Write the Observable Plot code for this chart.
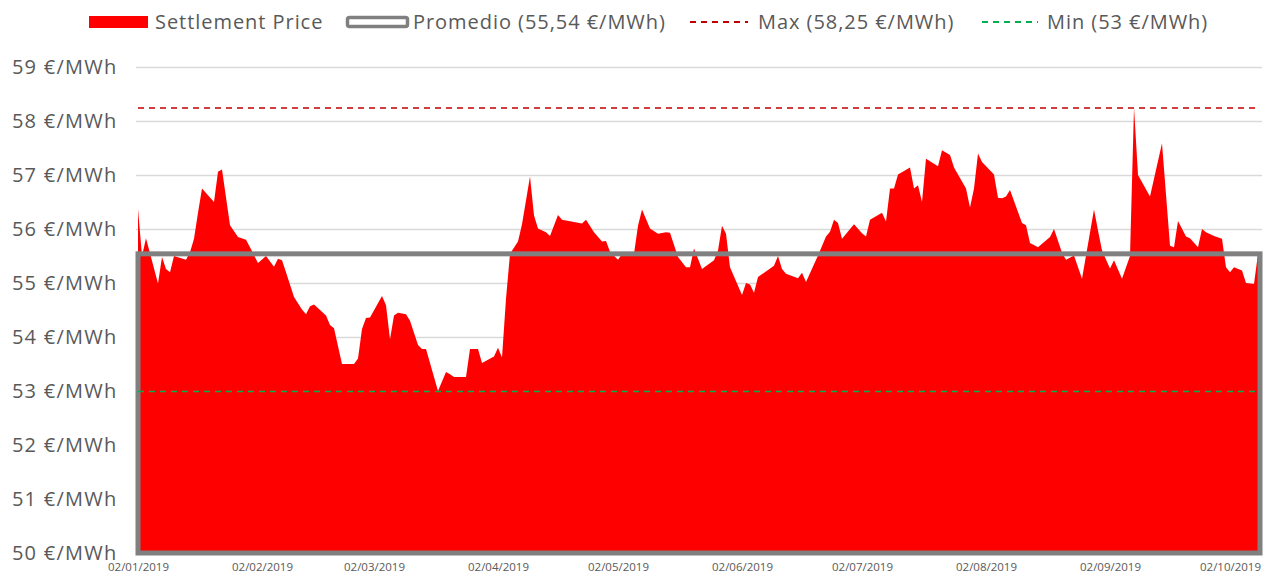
<!DOCTYPE html>
<html><head><meta charset="utf-8">
<script src="https://cdn.jsdelivr.net/npm/d3@7"></script>
<script src="https://cdn.jsdelivr.net/npm/@observablehq/plot@0.6"></script>
<style>
body{margin:0;background:#fff;font-family:"Century Gothic","Open Sans",sans-serif;}
#legend{width:1266px;height:44px;}
#legend svg,#chart svg{display:block;}
#legend text{letter-spacing:0.95px;}
#chart g[aria-label="y-axis tick label"] text{letter-spacing:1.25px;}
</style></head><body>
<div id="legend"></div>
<div id="chart"></div>
<script>
const dates = [
"2019-01-02","2019-01-03","2019-01-04","2019-01-07","2019-01-08","2019-01-09","2019-01-10","2019-01-11",
"2019-01-14","2019-01-15","2019-01-16","2019-01-17","2019-01-18","2019-01-21","2019-01-22","2019-01-23",
"2019-01-25","2019-01-27","2019-01-29","2019-01-30","2019-02-01","2019-02-03","2019-02-05","2019-02-06",
"2019-02-07","2019-02-08","2019-02-10","2019-02-12","2019-02-13","2019-02-14","2019-02-15","2019-02-18",
"2019-02-19","2019-02-20","2019-02-22","2019-02-25","2019-02-26","2019-02-27","2019-02-28","2019-03-01",
"2019-03-04","2019-03-05","2019-03-06","2019-03-07","2019-03-08","2019-03-10","2019-03-11","2019-03-13",
"2019-03-14","2019-03-15","2019-03-18","2019-03-20","2019-03-21","2019-03-22","2019-03-25","2019-03-26",
"2019-03-28","2019-03-29","2019-04-01","2019-04-02","2019-04-03","2019-04-04","2019-04-05","2019-04-07",
"2019-04-08","2019-04-10","2019-04-11","2019-04-12","2019-04-14","2019-04-15","2019-04-17","2019-04-18",
"2019-04-23","2019-04-24","2019-04-26","2019-04-28","2019-04-29","2019-04-30","2019-05-02","2019-05-03",
"2019-05-06","2019-05-07","2019-05-08","2019-05-10","2019-05-12","2019-05-14","2019-05-15","2019-05-17",
"2019-05-19","2019-05-20","2019-05-21","2019-05-23","2019-05-26","2019-05-27","2019-05-28","2019-05-29",
"2019-05-30","2019-06-02","2019-06-03","2019-06-04","2019-06-05","2019-06-06","2019-06-10","2019-06-11",
"2019-06-12","2019-06-13","2019-06-16","2019-06-17","2019-06-18","2019-06-21","2019-06-23","2019-06-24",
"2019-06-25","2019-06-26","2019-06-27","2019-06-30","2019-07-02","2019-07-03","2019-07-04","2019-07-07",
"2019-07-08","2019-07-09","2019-07-10","2019-07-11","2019-07-14","2019-07-15","2019-07-16","2019-07-17",
"2019-07-18","2019-07-21","2019-07-22","2019-07-24","2019-07-25","2019-07-28","2019-07-29","2019-07-30",
"2019-07-31","2019-08-01","2019-08-04","2019-08-05","2019-08-06","2019-08-07","2019-08-08","2019-08-11",
"2019-08-12","2019-08-13","2019-08-15","2019-08-18","2019-08-19","2019-08-21","2019-08-22","2019-08-24",
"2019-08-26","2019-08-29","2019-08-30","2019-08-31","2019-09-02","2019-09-03","2019-09-05","2019-09-07",
"2019-09-08","2019-09-09","2019-09-12","2019-09-15","2019-09-17","2019-09-18","2019-09-19","2019-09-21",
"2019-09-22","2019-09-24","2019-09-25","2019-09-26","2019-09-28","2019-09-30","2019-10-01","2019-10-02",
"2019-10-03","2019-10-05","2019-10-06","2019-10-08","2019-10-09"
];
const prices = [
56.37,55.5,55.83,54.99,55.48,55.26,55.2,55.5,
55.43,55.57,55.82,56.3,56.75,56.5,57.06,57.1,
56.07,55.85,55.8,55.66,55.37,55.5,55.3,55.45,
55.42,55.2,54.74,54.51,54.42,54.57,54.6,54.4,
54.22,54.16,53.5,53.5,53.6,54.15,54.35,54.36,
54.76,54.59,53.96,54.4,54.45,54.42,54.3,53.85,
53.78,53.78,53.0,53.35,53.31,53.26,53.26,53.78,
53.78,53.52,53.64,53.8,53.62,54.71,55.54,55.77,
56.09,56.97,56.25,56.01,55.94,55.87,56.26,56.17,
56.1,56.17,55.94,55.77,55.78,55.58,55.43,55.54,
55.54,56.06,56.36,56.01,55.91,55.94,55.93,55.48,
55.29,55.29,55.64,55.26,55.42,55.6,56.06,55.91,
55.29,54.78,55.0,54.97,54.82,55.11,55.32,55.5,
55.26,55.17,55.09,55.19,55.02,55.51,55.86,55.95,
56.17,56.11,55.82,56.09,55.92,55.86,56.17,56.3,
56.14,56.75,56.75,57.01,57.14,56.75,56.81,56.5,
57.3,57.16,57.46,57.37,57.14,56.75,56.4,56.75,
57.4,57.24,57.01,56.58,56.57,56.6,56.72,56.11,
56.07,55.74,55.66,55.85,56.0,55.56,55.43,55.51,
55.08,56.36,55.97,55.6,55.27,55.42,55.08,55.5,
58.25,57.0,56.6,57.59,55.69,55.66,56.15,55.86,
55.83,55.66,56.0,55.94,55.87,55.82,55.29,55.2,
55.29,55.23,55.0,54.98,55.54
];
const avgPrice = 55.54;
const maxPrice = 58.25;
const minPrice = 53;
const yTicks = [50,51,52,53,54,55,56,57,58,59];
const xTicks = ["2019-01-02","2019-02-02","2019-03-02","2019-04-02","2019-05-02","2019-06-02","2019-07-02","2019-08-02","2019-09-02","2019-10-02"];
const seriesNames = ["Settlement Price","Promedio","Max","Min"];

const FONT = '"Century Gothic","Open Sans",sans-serif';
const TXT = "#595959";
const fmtNum = v => String(v).replace(".", ",");

// Legend
const lg = d3.select("#legend").append("svg").attr("width",1266).attr("height",44);
const ly = 22;
lg.append("rect").attr("x",89).attr("y",16).attr("width",59).attr("height",12).attr("fill","#ff0000");
lg.append("rect").attr("x",347.5).attr("y",17.5).attr("width",60).attr("height",9).attr("rx",2)
  .attr("fill","#fff").attr("stroke","#808080").attr("stroke-width",3.5);
lg.append("line").attr("x1",690).attr("x2",748).attr("y1",ly).attr("y2",ly)
  .attr("stroke","#c00000").attr("stroke-width",2).attr("stroke-dasharray","6,5");
lg.append("line").attr("x1",982).attr("x2",1038).attr("y1",ly).attr("y2",ly)
  .attr("stroke","#00b050").attr("stroke-width",2).attr("stroke-dasharray","6,5");
const legendTexts = [
  [155, seriesNames[0]],
  [413, `${seriesNames[1]} (${fmtNum(avgPrice)} €/MWh)`],
  [758, `${seriesNames[2]} (${fmtNum(maxPrice)} €/MWh)`],
  [1047, `${seriesNames[3]} (${fmtNum(minPrice)} €/MWh)`]
];
for (const [x,t] of legendTexts) {
  lg.append("text").attr("x",x).attr("y",ly).attr("dy","0.35em")
    .attr("font-family",FONT).attr("font-size",20).attr("fill",TXT).text(t);
}

const data = dates.map((d,i)=>({date:new Date(d), price:prices[i]}));
const start = new Date(dates[0]);
const end = new Date(dates[dates.length-1]);

const chart = Plot.plot({
  width:1266, height:533,
  marginLeft:136, marginRight:4, marginTop:23, marginBottom:24,
  x:{type:"utc", domain:[start,end], insetLeft:2, insetRight:4},
  y:{domain:[50,59]},
  style:{fontFamily:FONT, color:TXT, background:"#fff", overflow:"visible"},
  marks:[
    Plot.ruleY(yTicks, {stroke:"#d9d9d9", strokeWidth:1.3}),
    Plot.areaY(data, {x:"date", y1:50, y2:"price", fill:"#ff0000", curve:"linear"}),
    Plot.rect([{x1:start, x2:end, y1:50, y2:avgPrice}], {x1:"x1", x2:"x2", y1:"y1", y2:"y2",
      fill:"none", stroke:"#808080", strokeWidth:5, insetRight:-2}),
    Plot.ruleY([maxPrice], {x1:start, x2:end, stroke:"#c00000", strokeWidth:1.5, strokeDasharray:"6,5"}),
    Plot.ruleY([minPrice], {x1:start, x2:end, stroke:"#00b050", strokeWidth:1.5, strokeDasharray:"6,5"}),
    Plot.axisY({ticks:yTicks, tickSize:0, tickPadding:19, fontSize:20, fill:TXT,
      tickFormat:d=>`${d} €/MWh`}),
    Plot.axisX({ticks:xTicks.map(s=>new Date(s)), tickSize:0, tickPadding:9, fontSize:11.5, fill:TXT,
      tickFormat:d3.utcFormat("%d/%m/%Y")})
  ]
});
document.getElementById("chart").appendChild(chart);
</script>
</body></html>
